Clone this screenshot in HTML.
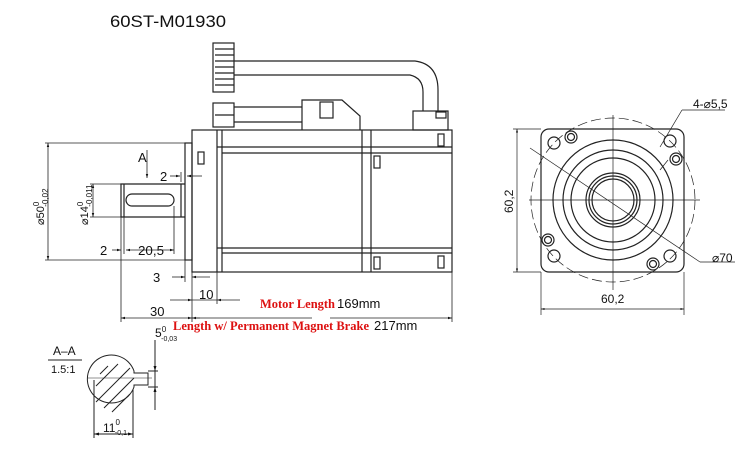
<!DOCTYPE html>
<html><head><meta charset="utf-8"><style>
html,body{margin:0;padding:0;background:#fff;}
svg{display:block;}
.t{font-family:"Liberation Sans",sans-serif;fill:#111;}
.r{font-family:"Liberation Serif",serif;font-weight:bold;fill:#d11;font-size:13px;}
</style></head><body>
<svg width="750" height="467" viewBox="0 0 750 467" xmlns="http://www.w3.org/2000/svg">
<defs>
<marker id="a" viewBox="0 0 10 10" refX="10" refY="5" markerWidth="7" markerHeight="5" orient="auto-start-reverse"><path d="M0,2 L10,5 L0,8 z" fill="#111"/></marker>
</defs>
<text x="110" y="27" class="t" font-size="17" textLength="116" lengthAdjust="spacingAndGlyphs">60ST-M01930</text>
<g stroke="#222" stroke-width="1.2" fill="none">
<rect x="213" y="43" width="21" height="49"/>
<path d="M215 49h19M215 55h19M215 61h19M215 67h19M215 73h19M215 79h19M215 85h19"/>
<path d="M234 61 H415 Q438 64 438 90 V111"/>
<path d="M234 75 H410 Q423 78 423 92 V111"/>
<rect x="413" y="111" width="35" height="19"/>
<rect x="436" y="112" width="10" height="6"/>
<rect x="213" y="103" width="21" height="24"/>
<path d="M215 115h19"/>
<path d="M234 107 H302 M234 122 H302"/>
<path d="M302 130 V100 H342 L360 116 V130"/>
<rect x="320" y="102" width="13" height="16"/>
<rect x="192" y="130" width="260" height="142"/>
<path d="M217 130V272M222 130V272M362 130V272M371 130V272"/>
<path d="M217 147H452M222 153H452M217 248H452M222 253H452"/>
<rect x="198" y="152" width="6" height="12"/>
<rect x="374" y="156" width="6" height="12"/>
<rect x="374" y="257" width="6" height="12"/>
<rect x="438" y="134" width="6" height="12"/>
<rect x="438" y="256" width="6" height="12"/>
<rect x="185" y="143" width="7" height="117"/>
<path d="M185 184H121V217H185M124 184V217M181 184V217"/>
<rect x="126" y="194" width="48" height="12" rx="6"/>
</g>
<g stroke="#222" stroke-width="0.8" fill="none">
<path d="M45 143H185M45 260H185"/>
<path d="M48 143V260" marker-start="url(#a)" marker-end="url(#a)"/>
<path d="M90 184H121M90 217H121"/>
<path d="M93 184V217" marker-start="url(#a)" marker-end="url(#a)"/>
<path d="M147 150V178" marker-end="url(#a)"/>
<path d="M170 176H180" marker-end="url(#a)"/><path d="M202 176H187" marker-end="url(#a)"/>
<path d="M181 172V182"/>
<path d="M124 217V254M174 206V254"/>
<path d="M112 250H121" marker-end="url(#a)"/><path d="M126 250H174" marker-start="url(#a)" marker-end="url(#a)"/>
<path d="M185 260V282M192 272V322M217 272V304"/>
<path d="M172 277H185" marker-end="url(#a)"/><path d="M210 277H192" marker-end="url(#a)"/>
<path d="M170 300H192" marker-end="url(#a)"/><path d="M240 300H217" marker-end="url(#a)"/><path d="M192 300H217"/>
<path d="M121 217V322M452 272V322"/>
<path d="M121 318H192" marker-start="url(#a)" marker-end="url(#a)"/>
<path d="M192 318H312M330 318H452" marker-end="url(#a)"/>
<path d="M192 318H200" marker-start="url(#a)"/>
</g>
<g class="t" font-size="13">
<text x="138" y="162">A</text>
<text x="160" y="181">2</text>
<text x="100" y="255">2</text>
<text x="138" y="255" textLength="26" lengthAdjust="spacingAndGlyphs">20,5</text>
<text x="153" y="282">3</text>
<text x="199" y="299">10</text>
<text x="150" y="316">30</text>
<text transform="translate(44,225) rotate(-90)" font-size="11">⌀50<tspan font-size="8" dy="-5">0</tspan><tspan font-size="8" dx="-5" dy="9">-0,02</tspan></text>
<text transform="translate(88,225) rotate(-90)" font-size="11">⌀14<tspan font-size="8" dy="-5">0</tspan><tspan font-size="8" dx="-5" dy="9">-0,011</tspan></text>
</g>
<text x="260" y="308" class="r" textLength="75" lengthAdjust="spacingAndGlyphs">Motor Length</text><text x="337" y="308" class="t" font-size="13">169mm</text>
<text x="173" y="330" class="r" textLength="196" lengthAdjust="spacingAndGlyphs">Length w/ Permanent Magnet Brake</text><text x="374" y="330" class="t" font-size="13">217mm</text>
<g class="t" font-size="12">
<text x="155" y="337">5<tspan font-size="8" dy="-5">0</tspan><tspan font-size="7" dx="-5" dy="9">-0,03</tspan></text>
<text x="53" y="355">A–A</text>
<text x="51" y="373" font-size="11">1.5:1</text>
<text x="103" y="432">11<tspan font-size="8" dy="-7">0</tspan><tspan font-size="7" dx="-5" dy="10">-0,1</tspan></text>
</g>
<g stroke="#222" stroke-width="1" fill="none">
<path d="M48 360H82"/>
<path d="M134 371 A24 24 0 1 0 134 387 V385 H148 V373 H134 Z"/>
<path d="M96 402L130 368M104 408L134 378M112 412L130 394M96 386L118 364M100 374L108 366"/>
<path d="M88 378H152" stroke-width="0.6"/>
<path d="M155 340V410M148 371H158M148 387H158"/>
<path d="M155 352V371" marker-end="url(#a)"/><path d="M155 406V387" marker-end="url(#a)"/>
<path d="M94 380V438M133 389V438"/>
<path d="M94 434H133" marker-start="url(#a)" marker-end="url(#a)"/>
</g>
<g stroke="#222" stroke-width="1.2" fill="none">
<rect x="541" y="129" width="143" height="143" rx="8"/>
<circle cx="613" cy="200" r="82" stroke-dasharray="10 4" stroke-width="0.7"/>
<circle cx="613" cy="200" r="60"/>
<circle cx="613" cy="200" r="50"/>
<circle cx="613" cy="200" r="42"/>
<circle cx="613" cy="200" r="27"/>
<circle cx="613" cy="200" r="24"/>
<circle cx="613" cy="200" r="21"/>
<circle cx="554" cy="143" r="6"/><circle cx="670" cy="141" r="6"/>
<circle cx="554" cy="256" r="6"/><circle cx="670" cy="256" r="6"/>
<circle cx="571" cy="137" r="6"/><circle cx="571" cy="137" r="3.5"/>
<circle cx="676" cy="159" r="6"/><circle cx="676" cy="159" r="3.5"/>
<circle cx="548" cy="240" r="6"/><circle cx="548" cy="240" r="3.5"/>
<circle cx="653" cy="264" r="6"/><circle cx="653" cy="264" r="3.5"/>
</g>
<g stroke="#222" stroke-width="0.7" fill="none">
<path d="M529 200H700M613 115V290"/>
<path d="M530 148L700 262"/>
<path d="M682 110L660 147M668 160L660 170"/>
<path d="M682 110H725"/>
<path d="M513 129H541M513 272H541"/>
<path d="M517 129V272" marker-start="url(#a)" marker-end="url(#a)"/>
<path d="M541 272V315M684 272V315"/>
<path d="M541 309H684" marker-start="url(#a)" marker-end="url(#a)"/>
<path d="M700 262H735"/>
</g>
<g class="t" font-size="12">
<text x="693" y="108">4-⌀5,5</text>
<text x="712" y="262">⌀70</text>
<text x="601" y="303">60,2</text>
<text transform="translate(513,213) rotate(-90)">60,2</text>
</g>
</svg>
</body></html>
